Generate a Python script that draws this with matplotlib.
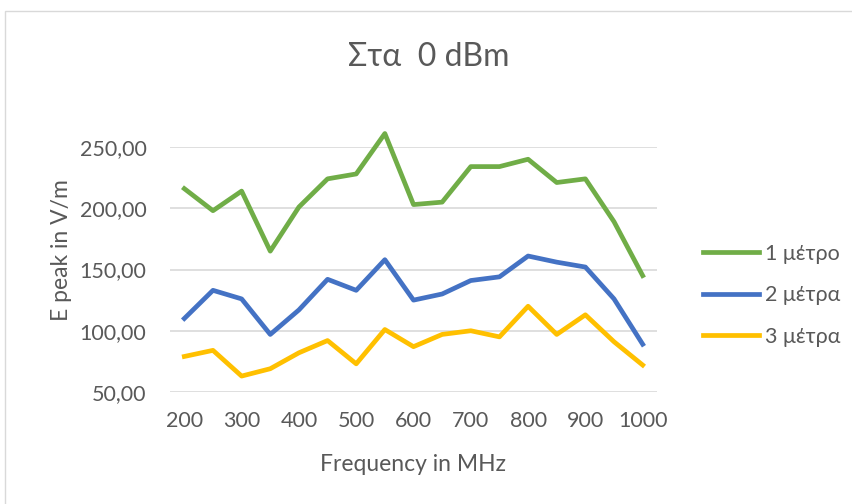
import matplotlib as mpl
import matplotlib.pyplot as plt
import matplotlib.ticker as mtick
from matplotlib.patches import Rectangle

mpl.rcParams['font.family'] = ['Lato', 'DejaVu Sans']

freq = [200, 250, 300, 350, 400, 450, 500, 550, 600, 650, 700, 750, 800, 850, 900, 950, 1000]
one_metre = [216, 198, 214, 165, 201, 224, 228, 261, 203, 205, 234, 234, 240, 221, 224, 189, 145]
two_metres = [110, 133, 126, 97, 117, 142, 133, 158, 125, 130, 141, 144, 161, 156, 152, 126, 89]
three_metres = [79, 84, 63, 69, 82, 92, 73, 101, 87, 97, 100, 95, 120, 97, 113, 91, 72]
xticks = [200, 300, 400, 500, 600, 700, 800, 900, 1000]

textcolor = '#595959'

fig = plt.figure(figsize=(8.52, 5.04), dpi=100)
# chart border
fig.patches.append(Rectangle((5 / 852, -0.1), 1.2, 1 - 11 / 504 + 0.1, transform=fig.transFigure,
                             fill=False, edgecolor='#d9d9d9', linewidth=1))

ax = fig.add_axes([170 / 852, 1 - 392 / 504, (657 - 170) / 852, (392 - 147) / 504])

ax.plot(freq, one_metre, color='#70ad47', linewidth=3.4, label='1 μέτρο', clip_on=False, solid_joinstyle='round')
ax.plot(freq, two_metres, color='#4472c4', linewidth=3.4, label='2 μέτρα', clip_on=False, solid_joinstyle='round')
ax.plot(freq, three_metres, color='#ffc000', linewidth=3.4, label='3 μέτρα', clip_on=False, solid_joinstyle='round')

ax.set_xlim(175, 1025)
ax.set_ylim(50, 250)
ax.set_xticks(xticks)
ax.set_yticks([50, 100, 150, 200, 250])
ax.yaxis.set_major_formatter(mtick.FuncFormatter(lambda v, p: f"{v:.2f}".replace('.', ',')))
ax.tick_params(length=0, labelsize=15.5, colors=textcolor)
ax.tick_params(axis='y', pad=17)
ax.tick_params(axis='x', pad=14)
for s in ax.spines.values():
    s.set_visible(False)
ax.grid(axis='y', color='#d9d9d9', linewidth=1.2)
ax.set_axisbelow(True)

ax.set_xlabel('Frequency in MHz', fontsize=16.5, color=textcolor, labelpad=16)
fig.text(61 / 852, 1 - 250 / 504, 'E peak in V/m', rotation=90, ha='center', va='center',
         fontsize=16.5, color=textcolor)
fig.text(0.5 * (1 + 5 / 852), 1 - 57 / 504, 'Στα  0 dBm', ha='center', va='center', fontsize=23, color=textcolor)

leg = ax.legend(loc='center left', bbox_to_anchor=(1.055, 0.395), frameon=False, fontsize=15.5,
                handlelength=2.6, labelspacing=1.0, handletextpad=0.25)
for t in leg.get_texts():
    t.set_color(textcolor)

fig.savefig('out.png', dpi=100)
